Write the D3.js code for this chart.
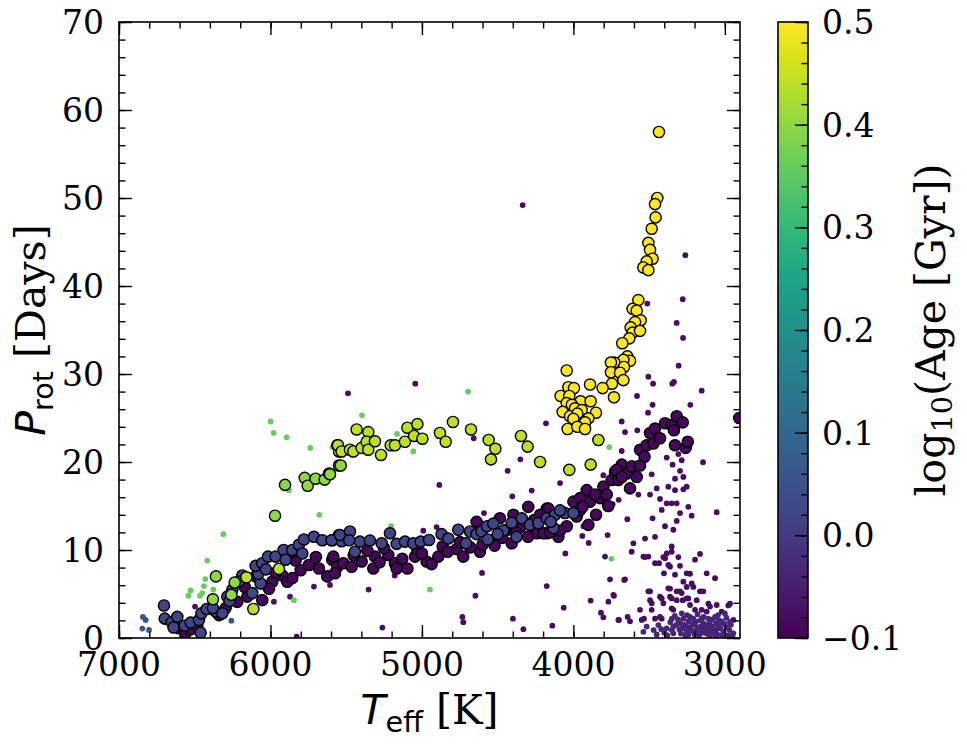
<!DOCTYPE html>
<html>
<head>
<meta charset="utf-8">
<script src="https://cdn.jsdelivr.net/npm/d3@7"></script>
<style>
  body { margin: 0; background: #fff; }
  svg text { font-family: "DejaVu Serif", serif; fill: #000; }
</style>
</head>
<body>
<svg id="chart" width="967" height="744"></svg>
<script>
// ---- data: [Teff (K), Prot (days)] pairs ----

// large circles, lower (older-looking) part of the slow sequence
var bandDark = [
  [6604,1.1],[6560,0.55],[6527,1.0],[6483,1.4],[6340,2.6],[6296,3.4],[6219,4.1],[6153,4.7],
  [6054,4.3],[5988,6.4],[5922,7.1],[5889,6.4],[5856,6.8],[5801,7.7],[5746,8.3],[5680,7.9],
  [5625,7.0],[5592,8.9],[5558,8.1],[5834,8.8],[5856,9.8],[6098,7.0],[5966,7.4],[6170,5.8],
  [6010,5.6],[5585,9.25],[5574,7.35],[5519,8.5],[5464,8.1],[5398,8.7],[5321,7.9],[5310,9.25],
  [5222,9.44],[5178,8.5],[5167,7.9],[5096,7.9],[5046,9.25],[5030,10.0],[4969,8.7],[4936,8.4],
  [4892,9.25],[4863,10.4],[4771,10.1],[4727,9.25],[4749,10.9],[4617,9.8],[4639,13.2],[4562,11.1],
  [4485,13.6],[4407,10.76],[4396,14.0],[4298,14.9],[4176,14.7],[4242,11.9],[4176,11.9],[5360,9.9],
  [5250,10.2],[4680,10.3],[4520,10.5],[4440,12.3],[4350,12.6],[4300,11.5],[4198,11.9],[4165,14.7],
  [4099,11.5],[4044,12.7],[3978,13.8],[3956,14.55],[3901,12.85],[3890,15.5],[3824,15.9],[3912,16.8],
  [3802,17.2],[3747,17.96],[3725,18.9],[3681,19.7],[3703,17.96],[3648,18.7],[3615,19.5],[3626,17.0],
  [3582,18.3],[3560,19.6],[3560,21.4],[3516,21.9],[3472,22.1],[3494,23.3],[3461,23.8],[3428,22.7],
  [3395,24.4],[3351,24.2],[3318,25.2],[3278,24.5],[3336,23.6],[3329,21.9],[3259,21.6],[3245,22.3],
  [4000,15.5],[3956,15.9],[3857,16.3],[3780,16.3],[3714,19.1],[4088,12.2],[4154,12.0],[3850,14.0],
  [3770,15.0],[2905,25.0],[5700,9.2],[5450,9.4],[5280,8.6],[5130,9.0],[5000,9.6],[4830,9.8],
  [4600,10.6],[4470,11.4],[4380,12.0],[4260,13.4],[4220,14.0],[3940,14.9],[3680,18.3],[3530,20.6]
];

// large circles, upper part of the sequence (bluish)
var bandBlue = [
  [6703,3.7],[6698,2.2],[6652,1.8],[6615,2.4],[6640,1.2],[6566,1.4],[6527,1.75],[6472,2.05],
  [6456,2.8],[6421,3.3],[6461,0.6],[6362,3.0],[6318,2.8],[6380,3.4],[6285,4.7],[6252,5.5],
  [6270,4.2],[6186,7.1],[6210,6.4],[6120,5.1],[6065,6.2],[6080,7.3],[6098,8.2],[6054,8.5],
  [6030,7.8],[6016,9.25],[5966,9.25],[5913,10.0],[5900,8.9],[5856,10.0],[5812,10.6],[5790,9.6],
  [5779,11.2],[5713,11.5],[5658,11.1],[5592,11.1],[5547,11.7],[5530,11.0],[5596,11.1],[5541,11.7],
  [5475,12.1],[5480,11.1],[5442,9.8],[5409,10.95],[5343,11.07],[5266,10.76],[5211,11.9],[5167,10.7],
  [5112,10.95],[5057,10.76],[5008,10.95],[4953,11.14],[4870,11.8],[4826,11.3],[4760,12.3],[4709,10.76],
  [4683,12.1],[4640,11.8],[4606,12.1],[4570,12.7],[4529,13.0],[4462,12.2],[4407,13.1],[4375,11.5],
  [4341,13.6],[4287,12.85],[4232,13.04],[4176,13.6],[4500,11.8],[4565,11.2],[4121,14.0],[4055,14.2],
  [4000,14.2],[4132,12.5],[4088,14.5],[4150,13.2]
];

// large green circles
var greenBig = [
  [5970,13.9],[6360,7.0],[6236,6.3],[6258,4.9],[6380,4.4],[5904,17.4],[5774,18.2],[5754,17.3],
  [5702,18.1],[5642,18.0],[5613,18.7],[5547,19.6],[5607,18.6],[5536,19.6]
];

// large lime circles
var limeBig = [
  [6159,6.9],[5944,7.85],[6113,3.3],[5558,21.9],[5547,21.2],[5554,21.9],[5530,21.2],[5475,21.4],
  [5453,21.2],[5431,23.7],[5398,21.6],[5354,23.4],[5365,22.3],[5354,21.4],[5310,22.35],[5270,20.8],
  [5206,21.9],[5178,21.9],[5112,22.3],[5096,23.9],[5052,22.96],[5030,24.3],[4997,22.65],[4881,23.3],
  [4843,22.3],[4795,24.55],[4676,23.7],[4559,22.5],[4515,21.5],[4544,20.3],[4346,22.96],[4302,21.75],
  [4220,20.0],[4027,19.1],[3886,19.7],[3835,22.5]
];

// large yellow circles
var yellowBig = [
  [3435,57.5],[3446,50.0],[3461,49.3],[3457,47.8],[3483,46.5],[3505,44.9],[3494,44.1],[3477,43.1],
  [3516,42.8],[3538,42.1],[3505,41.8],[3571,38.4],[3609,37.4],[3582,37.2],[3556,36.1],[3593,35.9],
  [3622,35.3],[3609,34.7],[3560,34.9],[3631,34.05],[3677,33.5],[3644,32.0],[3626,31.5],[3670,31.6],
  [3730,31.3],[3752,31.3],[3666,30.8],[3752,30.2],[3692,30.15],[3670,29.3],[3745,28.9],[3807,28.4],
  [3732,27.35],[3890,28.8],[4044,30.4],[4033,28.5],[3996,28.4],[4084,27.5],[4027,27.5],[3952,26.9],
  [3886,26.9],[4044,26.7],[4010,26.5],[4071,25.7],[3989,26.1],[3945,25.9],[3851,25.6],[4022,25.2],
  [3974,25.5],[3901,24.96],[4000,24.9],[3923,24.5],[4038,23.75],[3974,24.0],[3923,23.75]
];

// small dots, field stars
var fieldDots = [
  [6498,3.57],[5977,4.13],[5871,4.7],[5713,5.84],[5607,6.03],[5827,0.16],[4181,24.4],[4658,22.7],
  [4350,20.3],[4434,19.0],[4885,17.4],[4275,16.75],[4403,16.1],[4590,14.2],[4991,12.2],[4903,12.6],
  [4603,7.4],[5180,7.1],[5352,5.5],[4647,4.8],[4733,2.4],[4727,1.8],[4399,2.2],[4330,1.0],
  [5261,1.18],[4176,5.9],[5488,27.8],[5044,28.9],[4335,49.2],[3261,43.5],[3278,38.5],[3512,38.0],
  [3318,35.8],[3276,34.1],[3305,30.95],[3505,29.7],[3474,28.9],[3347,28.9],[3336,29.1],[3153,28.1],
  [3580,27.5],[3681,24.6],[3659,23.4],[3578,23.6],[3477,26.5],[3507,25.6],[3228,26.5],[3144,19.97],
  [3054,14.3],[3681,21.25],[3384,20.5],[3307,20.9],[3285,20.2],[3345,19.7],[3296,19.0],[3329,18.1],
  [3274,18.3],[3483,18.6],[3373,17.2],[3329,16.8],[3274,16.9],[3252,17.2],[3450,17.0],[3494,16.3],
  [3571,16.3],[3428,15.8],[3384,15.3],[3351,15.3],[3318,15.3],[3417,14.55],[3296,14.2],[3241,14.9],
  [3219,13.9],[3477,13.6],[3318,13.3],[3340,12.3],[3395,12.7],[3644,13.5],[3701,15.7],[3741,15.2],
  [3802,18.5],[4088,17.6],[3934,12.7],[3941,11.6],[3899,10.8],[3774,11.7],[4053,9.6],[3791,9.25],
  [3758,6.67],[3659,6.67],[3886,4.25],[3769,4.13],[3732,4.8],[4064,3.45],[3818,2.88],[3802,2.35],
  [3699,2.05],[4139,1.4],[3642,2.4],[3549,2.05],[3604,10.76],[3527,11.3],[3461,11.5],[3538,9.25],
  [3615,9.8],[3505,9.25],[3461,8.5],[3434,8.5],[3395,9.06],[3351,10.4],[3384,9.6],[3362,8.1],
  [3296,8.2],[3329,7.2],[3252,7.35],[3219,6.2],[3274,6.4],[3164,9.55],[3120,7.35],[3065,6.8],
  [3142,5.3],[3402,7.35],[3505,5.3],[3428,4.7],[3373,5.65],[3318,5.3],[3252,5.8],[3406,3.95],
  [3318,4.3],[3351,3.37],[3483,3.95],[3252,4.5],[3186,4.3],[3098,3.57],[3021,3.0],[2944,2.05],
  [2966,3.9],[3560,3.2],[3494,5.3],[3362,5.6],[3208,5.8],[3164,5.3],[3494,4.3],[3417,4.5],
  [3351,4.5],[3340,3.2],[3285,5.1],[3278,4.3],[3230,3.75],[3153,3.2],[3109,3.9],[3054,3.75],
  [2977,3.7],[3483,3.2],[3534,2.2],[3461,2.2],[3417,2.2],[3527,9.2],[3406,9.2],[3351,9.8],
  [3307,9.2],[3197,8.9],[3373,8.3],[3230,7.3],[3664,6.6],[3736,4.9],[3362,4.7],[3296,5.3],
  [3241,4.5],[3120,3.0],[3197,3.2],[3703,2.05],[3626,1.9],[3428,2.4]
];

// small dots, crowded clump of cool fast rotators
var clusterDots = [
  [3285,2.8],[3274,2.2],[3208,2.2],[3153,2.2],[3109,2.2],[3065,2.4],[2966,1.85],[3516,1.3],
  [3439,1.47],[3384,1.1],[3340,1.3],[3296,1.7],[3241,1.9],[3197,1.5],[3142,1.7],[3087,1.3],
  [3032,1.5],[3340,0.53],[3252,0.7],[3164,0.9],[3087,0.5],[3010,0.7],[2944,0.53],[3538,0.7],
  [3450,0.4],[3230,1.2],[3120,1.0],[3054,1.0],[2990,1.2],[3200,0.4],[3300,1.0],[3180,2.7],
  [3130,1.4],[3270,1.5],[3100,1.8],[3040,2.0],[2980,0.3],[3400,0.6],[3360,1.8],[3220,0.9],
  [3150,0.6],[3070,0.8],[3020,1.9],[3260,0.3],[3310,2.1],[3180,1.1],[3380,0.3],[3350,0.9],
  [3320,1.5],[3290,0.5],[3250,1.3],[3230,2.4],[3210,0.8],[3190,1.9],[3170,0.3],[3160,1.3],
  [3140,2.4],[3120,0.5],[3110,1.5],[3090,0.9],[3080,2.1],[3060,1.6],[3050,0.4],[3030,1.1],
  [3000,1.6],[2990,2.3],[2970,0.9],[2960,1.5],[2950,0.2],[3330,2.5],[3240,0.4],[3180,0.7],
  [3140,1.0],[3100,0.2],[3060,0.2],[3020,0.3],[3280,1.1],[3350,2.2],[3420,1.0],[3470,0.9],
  [3210,1.6],[3160,2.0],[3110,1.2],[3045,2.6],[3000,2.8],[3250,2.6]
];

// small green dots
var greenDots = [
  [5999,24.6],[5979,23.3],[5893,22.8],[5737,21.6],[5592,21.7],[5878,16.8],[5677,14.0],[6311,11.8],
  [6417,8.8],[6430,6.7],[6439,5.9],[6527,5.4],[6542,4.8],[6465,4.8],[6450,5.1],[6377,5.5],
  [5845,4.3],[5396,25.3],[5552,22.3],[5164,23.2],[5057,21.2],[5204,12.7],[4947,5.5],[4696,28.0],
  [3763,21.7],[3749,9.0]
];

// small blue dots
var blueDots = [[6842,2.4],[6824,2.05],[6846,1.07],[6802,0.91],[6258,1.97]];

// log10(age / Gyr) of each group
var ageBandDark = -0.09, ageBandBlue = 0.02, ageGreenBig = 0.40, ageLimeBig = 0.44, ageYellowBig = 0.5;
var ageField = -0.08, ageCluster = -0.035, ageGreenDots = 0.36, ageBlueDots = 0.06;

var smallLayers = [[fieldDots, ageField], [clusterDots, ageCluster], [greenDots, ageGreenDots], [blueDots, ageBlueDots]];
var bigLayers = [[bandDark, ageBandDark], [bandBlue, ageBandBlue], [greenBig, ageGreenBig], [limeBig, ageLimeBig], [yellowBig, ageYellowBig]];

var xTicks = [7000, 6000, 5000, 4000, 3000];
var yTicks = [0, 10, 20, 30, 40, 50, 60, 70];
var cbarTicks = [-0.1, 0.0, 0.1, 0.2, 0.3, 0.4, 0.5];
var cbarTickLabels = ["\u22120.1", "0.0", "0.1", "0.2", "0.3", "0.4", "0.5"];

// ---- layout ----
var plotL = 119, plotR = 740, plotT = 22, plotB = 638;
var cbL = 778, cbR = 808;
var tickFont = 33, labelFont = 41;

var svg = d3.select("#chart");

var x = d3.scaleLinear().domain([7000, 2900]).range([plotL, plotR]);
var y = d3.scaleLinear().domain([0, 70]).range([plotB, plotT]);
var cAge = d3.scaleLinear().domain([-0.1, 0.5]).range([plotB, plotT]);
var color = function (v) { return d3.interpolateViridis((v + 0.1) / 0.6); };

var defs = svg.append("defs");
defs.append("clipPath").attr("id", "plotclip")
  .append("rect").attr("x", plotL).attr("y", plotT).attr("width", plotR - plotL).attr("height", plotB - plotT);

var marks = svg.append("g").attr("clip-path", "url(#plotclip)");

smallLayers.forEach(function (layer) {
  marks.append("g").selectAll("circle").data(layer[0]).enter().append("circle")
    .attr("cx", function (d) { return x(d[0]); })
    .attr("cy", function (d) { return y(d[1]); })
    .attr("r", 2.9)
    .attr("fill", color(layer[1]));
});

bigLayers.forEach(function (layer) {
  marks.append("g").selectAll("circle").data(layer[0]).enter().append("circle")
    .attr("cx", function (d) { return x(d[0]); })
    .attr("cy", function (d) { return y(d[1]); })
    .attr("r", 5.6)
    .attr("fill", color(layer[1]))
    .attr("stroke", "#000")
    .attr("stroke-width", 1.4);
});

// ---- axes: inward ticks on all four sides ----
function tickAxis(axisFn, scale, major, minor, pos) {
  var g = svg.append("g").attr("transform", pos);
  g.call(axisFn(scale).tickValues(minor).tickSize(-6.5).tickFormat(""));
  g.append("g").call(axisFn(scale).tickValues(major).tickSize(-13).tickFormat(""));
  g.selectAll(".domain").remove();
  g.selectAll("line").attr("stroke", "#000").attr("stroke-width", 1.4);
  return g;
}
var xMinor = d3.range(7000, 2899, -200);
var yMinor = d3.range(0, 70.1, 2);
tickAxis(d3.axisBottom, x, xTicks, xMinor, "translate(0," + plotB + ")");
tickAxis(d3.axisTop, x, xTicks, xMinor, "translate(0," + plotT + ")");
tickAxis(d3.axisLeft, y, yTicks, yMinor, "translate(" + plotL + ",0)");
tickAxis(d3.axisRight, y, yTicks, yMinor, "translate(" + plotR + ",0)");

svg.append("rect").attr("x", plotL).attr("y", plotT).attr("width", plotR - plotL).attr("height", plotB - plotT)
  .attr("fill", "none").attr("stroke", "#000").attr("stroke-width", 1.6);

svg.append("g").selectAll("text").data(xTicks).enter().append("text")
  .attr("x", function (d) { return x(d); }).attr("y", 676)
  .attr("text-anchor", "middle").attr("font-size", tickFont)
  .text(function (d) { return d; });

svg.append("g").selectAll("text").data(yTicks).enter().append("text")
  .attr("x", 104).attr("y", function (d) { return y(d); }).attr("dy", "0.36em")
  .attr("text-anchor", "end").attr("font-size", tickFont)
  .text(function (d) { return d; });

// x label  T_eff [K]
var xl = svg.append("text").attr("x", (plotL + plotR) / 2).attr("y", 724)
  .attr("text-anchor", "middle").attr("font-size", labelFont);
xl.append("tspan").attr("font-family", "DejaVu Sans").attr("font-style", "italic").text("T");
xl.append("tspan").attr("font-family", "DejaVu Sans").attr("font-size", labelFont * 0.7).attr("dy", 8).text("eff");
xl.append("tspan").attr("dy", -8).text("\u00a0[K]");

// y label  P_rot [Days]
var yl = svg.append("text").attr("transform", "translate(45," + ((plotT + plotB) / 2) + ") rotate(-90)")
  .attr("text-anchor", "middle").attr("font-size", labelFont);
yl.append("tspan").attr("font-family", "DejaVu Sans").attr("font-style", "italic").text("P");
yl.append("tspan").attr("font-family", "DejaVu Sans").attr("font-size", labelFont * 0.7).attr("dy", 8).text("rot");
yl.append("tspan").attr("dy", -8).text("\u00a0[Days]");

// ---- colorbar ----
var grad = defs.append("linearGradient").attr("id", "viridisGrad")
  .attr("x1", 0).attr("y1", 1).attr("x2", 0).attr("y2", 0);
d3.range(0, 1.0001, 0.05).forEach(function (t) {
  grad.append("stop").attr("offset", t).attr("stop-color", d3.interpolateViridis(t));
});
svg.append("rect").attr("x", cbL).attr("y", plotT).attr("width", cbR - cbL).attr("height", plotB - plotT)
  .attr("fill", "url(#viridisGrad)");

var cbMinor = d3.range(-0.1, 0.5001, 0.02);
tickAxis(d3.axisRight, cAge, cbarTicks, cbMinor, "translate(" + cbR + ",0)");
svg.append("rect").attr("x", cbL).attr("y", plotT).attr("width", cbR - cbL).attr("height", plotB - plotT)
  .attr("fill", "none").attr("stroke", "#000").attr("stroke-width", 1.6);

svg.append("g").selectAll("text").data(cbarTicks).enter().append("text")
  .attr("x", 822).attr("y", function (d) { return cAge(d); }).attr("dy", "0.36em")
  .attr("font-size", tickFont)
  .text(function (d, i) { return cbarTickLabels[i]; });

var cl = svg.append("text").attr("transform", "translate(945," + ((plotT + plotB) / 2) + ") rotate(-90)")
  .attr("text-anchor", "middle").attr("font-size", labelFont);
cl.append("tspan").text("log");
cl.append("tspan").attr("font-size", labelFont * 0.7).attr("dy", 7).text("10");
cl.append("tspan").attr("dy", -7).text("(Age [Gyr])");
</script>
</body>
</html>
